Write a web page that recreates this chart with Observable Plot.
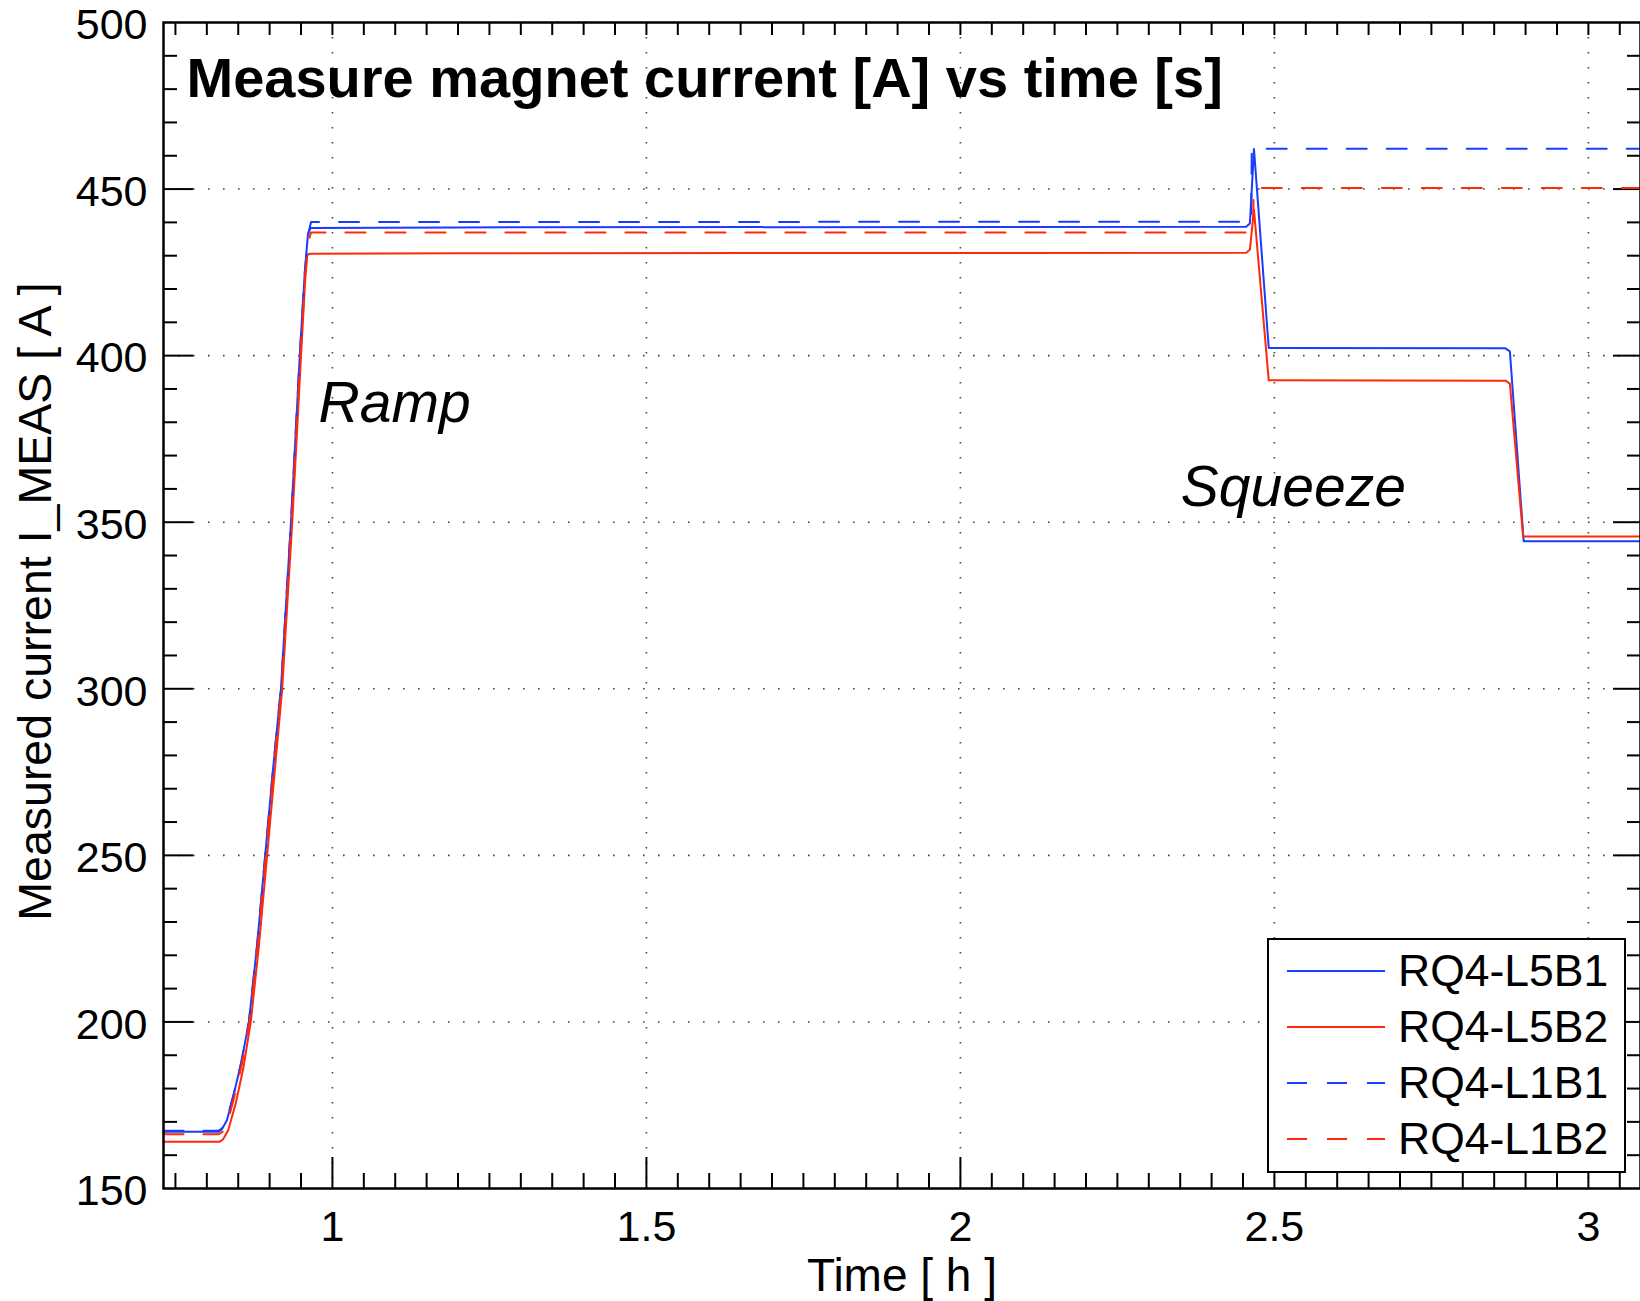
<!DOCTYPE html>
<html>
<head>
<meta charset="utf-8">
<script src="https://cdn.jsdelivr.net/npm/d3@7"></script>
<script src="https://cdn.jsdelivr.net/npm/@observablehq/plot@0.6"></script>
<style>
  html, body { margin: 0; padding: 0; background: #fff; }
  #wrap { position: relative; width: 1640px; height: 1301px; font-family: "Liberation Sans", Arial, Helvetica, sans-serif; }
  #legend { position: absolute; left: 1267px; top: 938px; width: 359px; height: 235px; box-sizing: border-box; border: 2px solid #000; background: #fff; }
  #legend .row { position: absolute; left: 0; height: 56px; display: flex; align-items: center; }
  #legend .label { position: absolute; left: 129px; font-size: 44.5px; color: #000; white-space: nowrap; line-height: 56px; }
</style>
</head>
<body>
<div id="wrap"></div>
<script>
// ---- data (time in hours, current in A) ----
const seriesNames = ["RQ4-L5B1", "RQ4-L5B2", "RQ4-L1B1", "RQ4-L1B2"];

const tL5B1 = [0.731, 0.818, 0.824, 0.832, 0.843, 0.855, 0.867, 0.880, 0.893, 0.905, 0.918, 0.934, 0.948, 0.956, 0.961, 0.965, 1.200, 2.455, 2.461, 2.4675, 2.491, 2.868, 2.875, 2.897, 3.083];
const iL5B1 = [167.0, 167.0, 167.8, 170.5, 178.4, 188.0, 200.0, 223.0, 250.0, 275.0, 300.0, 350.0, 400.0, 425.0, 436.5, 438.3, 438.5, 438.7, 439.7, 462.0, 402.3, 402.2, 401.3, 344.3, 344.3];

const tL5B2 = [0.731, 0.820, 0.826, 0.834, 0.846, 0.858, 0.870, 0.883, 0.896, 0.908, 0.920, 0.936, 0.950, 0.957, 0.960, 0.965, 1.200, 2.455, 2.461, 2.4675, 2.491, 2.868, 2.875, 2.896, 3.083];
const iL5B2 = [164.0, 164.0, 164.8, 167.5, 175.5, 186.0, 200.0, 223.0, 250.0, 275.0, 300.0, 350.0, 400.0, 424.0, 430.3, 430.6, 430.7, 430.9, 431.8, 443.8, 392.6, 392.5, 391.6, 345.7, 345.7];

const tL1B1 = [0.731, 0.818, 0.824, 0.832, 0.843, 0.855, 0.867, 0.880, 0.893, 0.905, 0.918, 0.934, 0.948, 0.956, 0.962, 0.966, 2.463, 2.464, 3.083];
const iL1B1 = [167.3, 167.3, 168.0, 170.7, 178.5, 188.0, 200.0, 223.0, 250.0, 275.0, 300.0, 350.0, 400.0, 425.0, 437.0, 440.1, 440.2, 462.1, 462.1];

const tL1B2 = [0.731, 0.819, 0.825, 0.833, 0.844, 0.856, 0.868, 0.881, 0.894, 0.906, 0.919, 0.935, 0.949, 0.957, 0.962, 0.966, 2.466, 2.467, 3.083];
const iL1B2 = [166.3, 166.3, 167.0, 169.8, 177.8, 187.5, 200.0, 223.0, 250.0, 275.0, 300.0, 350.0, 400.0, 425.0, 434.5, 437.0, 437.0, 450.3, 450.3];

const xTicks = [1, 1.5, 2, 2.5, 3];
const yTicks = [150, 200, 250, 300, 350, 400, 450, 500];

const annotationLabels = ["Ramp", "Squeeze"];
const annotationTime = [0.978, 2.351];
const annotationCurrent = [380, 355];

const titleText = "Measure magnet current [A] vs time [s]";
const xLabel = "Time [ h ]";
const yLabel = "Measured current I_MEAS [ A ]";

// ---- styles ----
const seriesColors = ["#1a3cff", "#ff2a0a", "#1a3cff", "#ff2a0a"];
const seriesDash = [null, null, "20,20", "20,20"];

// ---- build tables ----
const times = [tL5B1, tL5B2, tL1B1, tL1B2];
const currents = [iL5B1, iL5B2, iL1B1, iL1B2];
const tables = seriesNames.map((name, k) => times[k].map((t, j) => ({series: name, t, v: currents[k][j]})));
const annotations = annotationLabels.map((label, k) => ({label, t: annotationTime[k], v: annotationCurrent[k]}));

const W = 1640, H = 1301;
const mL = 163, mT = 22, mR = 0, mB = 113;
const fw = W - mL - mR, fh = H - mT - mB;
const xDomain = [0.731, 3.083];

const minorX = d3.range(15, 62).map(k => k * 0.05).filter(v => v > xDomain[0] && v < xDomain[1] && !xTicks.some(m => Math.abs(m - v) < 1e-6));
const minorY = d3.range(16, 50).map(k => k * 10).filter(v => v % 50 !== 0);
const majorYInner = yTicks.filter(v => v > 150 && v < 500);

const tick = {stroke: "#000", strokeWidth: 2};

const marks = [
  Plot.gridX(xTicks, {stroke: "#444", strokeOpacity: 1, strokeWidth: 1.6, strokeDasharray: "1.6,13.4"}),
  Plot.gridY(majorYInner, {stroke: "#444", strokeOpacity: 1, strokeWidth: 1.6, strokeDasharray: "1.6,13.4"}),
  // inward tick marks
  Plot.tickY(minorY, {y: d => d, insetRight: fw - 14, ...tick}),
  Plot.tickY(majorYInner, {y: d => d, insetRight: fw - 30, ...tick}),
  Plot.tickY(minorY, {y: d => d, insetLeft: fw - 13, ...tick}),
  Plot.tickY(majorYInner, {y: d => d, insetLeft: fw - 27, ...tick}),
  Plot.tickX(minorX, {x: d => d, insetTop: fh - 15, ...tick}),
  Plot.tickX(xTicks, {x: d => d, insetTop: fh - 31, ...tick}),
  Plot.tickX(minorX.concat(xTicks), {x: d => d, insetBottom: fh - 13, ...tick}),
  // axes labels
  Plot.axisX(xTicks, {tickSize: 0, tickPadding: 22, fontSize: 43, label: null, tickFormat: d => String(d)}),
  Plot.axisY(yTicks, {tickSize: 0, tickPadding: 16, fontSize: 43, label: null, dy: 3}),
  // series
  ...tables.map((rows, k) => Plot.line(rows, {
    x: "t", y: "v", stroke: seriesColors[k], strokeWidth: 2,
    strokeDasharray: seriesDash[k] || undefined, curve: "linear"
  })),
  Plot.frame({stroke: "#000", strokeWidth: 2.5}),
  // title inside plot
  Plot.text([titleText], {frameAnchor: "top-left", dx: 23, dy: 74, lineAnchor: "bottom", textAnchor: "start", fontSize: 56, fontWeight: "bold", fill: "#000"}),
  // annotations
  Plot.text(annotations, {x: "t", y: "v", text: "label", textAnchor: "start", lineAnchor: "bottom", fontSize: 57, fontStyle: "italic", fill: "#000"}),
  // axis titles
  Plot.text([xLabel], {frameAnchor: "bottom", dy: 102, lineAnchor: "bottom", textAnchor: "middle", fontSize: 46, fill: "#000"}),
  Plot.text([yLabel], {frameAnchor: "left", rotate: -90, dx: -113, dy: -4, lineAnchor: "bottom", textAnchor: "middle", fontSize: 46.5, fill: "#000"})
];

const chart = Plot.plot({
  width: W, height: H,
  marginLeft: mL, marginTop: mT, marginRight: mR, marginBottom: mB,
  x: {domain: xDomain, axis: null},
  y: {domain: [150, 500], axis: null},
  style: {fontFamily: '"Liberation Sans", Arial, Helvetica, sans-serif', background: "#fff", color: "#000"},
  marks
});

const wrap = document.getElementById("wrap");
wrap.appendChild(chart);

// legend built from series arrays
const legend = document.createElement("div");
legend.id = "legend";
const rowCenters = seriesNames.map((_, k) => 31 + k * 56);
seriesNames.forEach((name, k) => {
  const row = document.createElement("div");
  row.className = "row";
  row.style.top = (rowCenters[k] - 28) + "px";
  row.style.width = "355px";
  const svgNS = "http://www.w3.org/2000/svg";
  const sw = document.createElementNS(svgNS, "svg");
  sw.setAttribute("width", "98"); sw.setAttribute("height", "56");
  sw.style.position = "absolute"; sw.style.left = "18px"; sw.style.top = "0px";
  const ln = document.createElementNS(svgNS, "line");
  ln.setAttribute("x1", "0"); ln.setAttribute("x2", "98");
  ln.setAttribute("y1", "28"); ln.setAttribute("y2", "28");
  ln.setAttribute("stroke", seriesColors[k]); ln.setAttribute("stroke-width", "2");
  if (seriesDash[k]) ln.setAttribute("stroke-dasharray", seriesDash[k]);
  sw.appendChild(ln);
  row.appendChild(sw);
  const lab = document.createElement("div");
  lab.className = "label";
  lab.textContent = name;
  lab.style.top = "0px";
  row.appendChild(lab);
  legend.appendChild(row);
});
wrap.appendChild(legend);
</script>
</body>
</html>
